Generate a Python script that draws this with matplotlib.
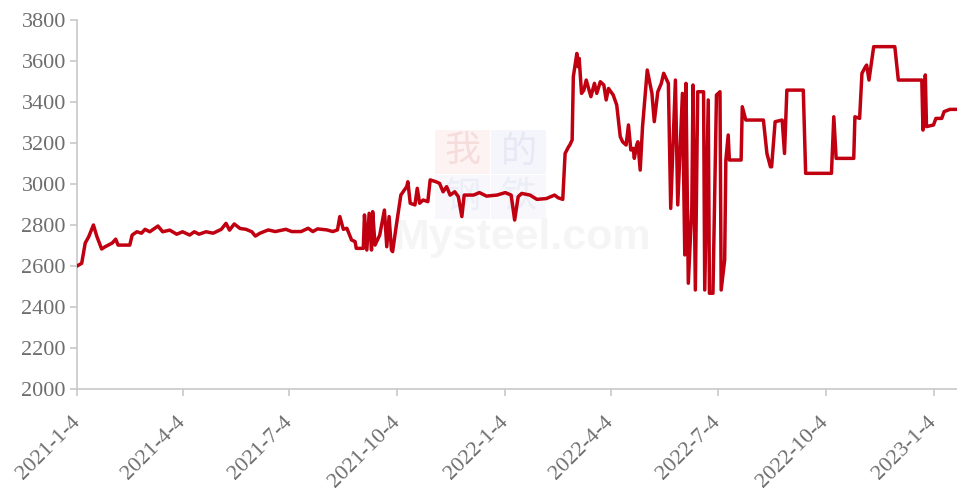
import matplotlib
matplotlib.use("Agg")
import matplotlib.pyplot as plt
from matplotlib.patches import Rectangle
import pandas as pd

# price series
dates = [
    "2021-01-04", "2021-01-08", "2021-01-11", "2021-01-14", "2021-01-18", "2021-01-21",
    "2021-01-25", "2021-01-28", "2021-02-03", "2021-02-06", "2021-02-08", "2021-02-18",
    "2021-02-20", "2021-02-24", "2021-02-28", "2021-03-03", "2021-03-07", "2021-03-14",
    "2021-03-18", "2021-03-24", "2021-03-30", "2021-04-04", "2021-04-10", "2021-04-14",
    "2021-04-18", "2021-04-24", "2021-04-30", "2021-05-07", "2021-05-11", "2021-05-14",
    "2021-05-18", "2021-05-23", "2021-05-28", "2021-06-02", "2021-06-05", "2021-06-09",
    "2021-06-16", "2021-06-22", "2021-07-01", "2021-07-06", "2021-07-14", "2021-07-20",
    "2021-07-24", "2021-07-28", "2021-08-05", "2021-08-10", "2021-08-14", "2021-08-16",
    "2021-08-19", "2021-08-22", "2021-08-26", "2021-08-29", "2021-08-30", "2021-09-05",
    "2021-09-06", "2021-09-08", "2021-09-10", "2021-09-12", "2021-09-13", "2021-09-15",
    "2021-09-19", "2021-09-23", "2021-09-25", "2021-09-27", "2021-09-29", "2021-09-30",
    "2021-10-03", "2021-10-07", "2021-10-12", "2021-10-13", "2021-10-15", "2021-10-19",
    "2021-10-21", "2021-10-23", "2021-10-26", "2021-10-30", "2021-11-01", "2021-11-06",
    "2021-11-09", "2021-11-12", "2021-11-15", "2021-11-18", "2021-11-22", "2021-11-25",
    "2021-11-28", "2021-11-30", "2021-12-08", "2021-12-13", "2021-12-19", "2021-12-28",
    "2022-01-04", "2022-01-09", "2022-01-12", "2022-01-15", "2022-01-18", "2022-01-25",
    "2022-01-31", "2022-02-08", "2022-02-15", "2022-02-18", "2022-02-22", "2022-02-24",
    "2022-02-27", "2022-02-28", "2022-03-02", "2022-03-03", "2022-03-06", "2022-03-07",
    "2022-03-08", "2022-03-10", "2022-03-12", "2022-03-14", "2022-03-18", "2022-03-21",
    "2022-03-23", "2022-03-26", "2022-03-29", "2022-03-31", "2022-04-02", "2022-04-06",
    "2022-04-09", "2022-04-12", "2022-04-14", "2022-04-17", "2022-04-19", "2022-04-21",
    "2022-04-23", "2022-04-24", "2022-04-26", "2022-04-27", "2022-04-29", "2022-05-01",
    "2022-05-05", "2022-05-09", "2022-05-11", "2022-05-14", "2022-05-17", "2022-05-19",
    "2022-05-23", "2022-05-25", "2022-05-29", "2022-05-31", "2022-06-04", "2022-06-06",
    "2022-06-07", "2022-06-09", "2022-06-12", "2022-06-13", "2022-06-15", "2022-06-17",
    "2022-06-22", "2022-06-23", "2022-06-26", "2022-06-27", "2022-06-30", "2022-07-03",
    "2022-07-06", "2022-07-07", "2022-07-10", "2022-07-11", "2022-07-13", "2022-07-14",
    "2022-07-24", "2022-07-25", "2022-07-28", "2022-08-12", "2022-08-15", "2022-08-18",
    "2022-08-19", "2022-08-22", "2022-08-28", "2022-08-30", "2022-09-01", "2022-09-15",
    "2022-09-17", "2022-10-09", "2022-10-11", "2022-10-13", "2022-10-28", "2022-10-29",
    "2022-11-02", "2022-11-04", "2022-11-07", "2022-11-08", "2022-11-10", "2022-11-14",
    "2022-12-02", "2022-12-05", "2022-12-25", "2022-12-26", "2022-12-28", "2022-12-29",
    "2023-01-04", "2023-01-06", "2023-01-11", "2023-01-13", "2023-01-18", "2023-01-24",
]
prices = [
    2600, 2613, 2712, 2743, 2800, 2743,
    2683, 2694, 2712, 2731, 2702, 2702,
    2751, 2767, 2760, 2779, 2767, 2795,
    2767, 2775, 2755, 2767, 2751, 2767,
    2755, 2767, 2760, 2779, 2808, 2775,
    2805, 2783, 2779, 2767, 2746, 2760,
    2776, 2768, 2779, 2768, 2768, 2784,
    2768, 2781, 2776, 2768, 2776, 2841,
    2779, 2784, 2727, 2719, 2686, 2686,
    2849, 2678, 2857, 2678, 2865, 2702,
    2751, 2873, 2694, 2841, 2678, 2670,
    2792, 2946, 2987, 3011, 2906, 2898,
    2979, 2906, 2922, 2914, 3020, 3011,
    3003, 2962, 2987, 2946, 2962, 2938,
    2841, 2946, 2946, 2958, 2941, 2946,
    2958, 2946, 2824, 2938, 2954, 2946,
    2925, 2929, 2946, 2933, 2925, 3149,
    3182, 3190, 3215, 3523, 3637, 3572,
    3613, 3442, 3458, 3507, 3426, 3491,
    3442, 3499, 3483, 3410, 3466, 3434,
    3385, 3231, 3206, 3190, 3288, 3166,
    3174, 3125, 3190, 3206, 3068, 3280,
    3556, 3442, 3304, 3450, 3491, 3540,
    3491, 2881, 3507, 2898, 3442, 2654,
    3491, 2516, 2889, 3483, 2483, 3450,
    3450, 2483, 3410, 2467, 2467, 3434,
    3450, 2483, 2629, 3117, 3239, 3117,
    3117, 3377, 3312, 3312, 3149, 3084,
    3084, 3304, 3312, 3149, 3458, 3458,
    3052, 3052, 3328, 3125, 3125, 3328,
    3320, 3540, 3572, 3580, 3507, 3670,
    3670, 3507, 3507, 3263, 3532, 3280,
    3288, 3320, 3320, 3353, 3364, 3364,
]
tick_dates = ["2021-01-04", "2021-04-04", "2021-07-04", "2021-10-04", "2022-01-04",
              "2022-04-04", "2022-07-04", "2022-10-04", "2023-01-04"]
tick_labels = ["2021-1-4", "2021-4-4", "2021-7-4", "2021-10-4", "2022-1-4",
               "2022-4-4", "2022-7-4", "2022-10-4", "2023-1-4"]
y_ticks = list(range(2000, 3801, 200))

x = pd.to_datetime(dates)
grey = "#6e6e6e"
axis_grey = "#c8c8c8"

fig = plt.figure(figsize=(9.57, 4.96), dpi=100)
ax = fig.add_axes([77 / 957, 107 / 496, 880 / 957, 369 / 496])
ax.set_zorder(2)
ax.patch.set_alpha(0)

# faint watermark behind the axes
for (bx, by, fc, ch, cc) in [(435, 130, "#fdf3f3", "我", "#f7dcdc"),
                             (491, 130, "#f5f6fb", "的", "#e6e9f5"),
                             (435, 175, "#f8f8fc", "钢", "#eceef7"),
                             (491, 175, "#f8f8fc", "铁", "#eceef7")]:
    fig.patches.append(Rectangle((bx / 957, 1 - (by + 44) / 496), 55 / 957, 44 / 496,
                                 transform=fig.transFigure, fc=fc, ec="none", zorder=0))
    fig.text((bx + 27.5) / 957, 1 - (by + 22) / 496, ch, family="Noto Sans CJK SC",
             fontsize=26, color=cc, ha="center", va="center", zorder=0.5)
fig.text(522 / 957, 1 - 238 / 496, "Mysteel.com", family="Liberation Sans",
         weight="bold", fontsize=31, color="#f5f5f5", ha="center", va="center", zorder=0.5)

ax.plot(x, prices, color="#c00010", linewidth=2.5, solid_joinstyle="round", zorder=3)

ax.set_ylim(2000, 3800)
ax.set_yticks(y_ticks)
ax.set_xlim(pd.Timestamp("2021-01-04"), pd.Timestamp("2023-01-24"))
ax.set_xticks(pd.to_datetime(tick_dates))
ax.set_xticklabels(tick_labels, rotation=45, ha="right", va="center",
                   rotation_mode="anchor")

for s in ["top", "right"]:
    ax.spines[s].set_visible(False)
for s in ["left", "bottom"]:
    ax.spines[s].set_color(axis_grey)
    ax.spines[s].set_linewidth(1.2)

ax.tick_params(axis="both", colors=axis_grey, length=5, width=1.2,
               labelcolor=grey, labelsize=16)
ax.tick_params(axis="x", pad=17)
ax.tick_params(axis="y", pad=3)
for lab in ax.get_xticklabels() + ax.get_yticklabels():
    lab.set_family("Liberation Serif")

fig.savefig("out.png", dpi=100)
